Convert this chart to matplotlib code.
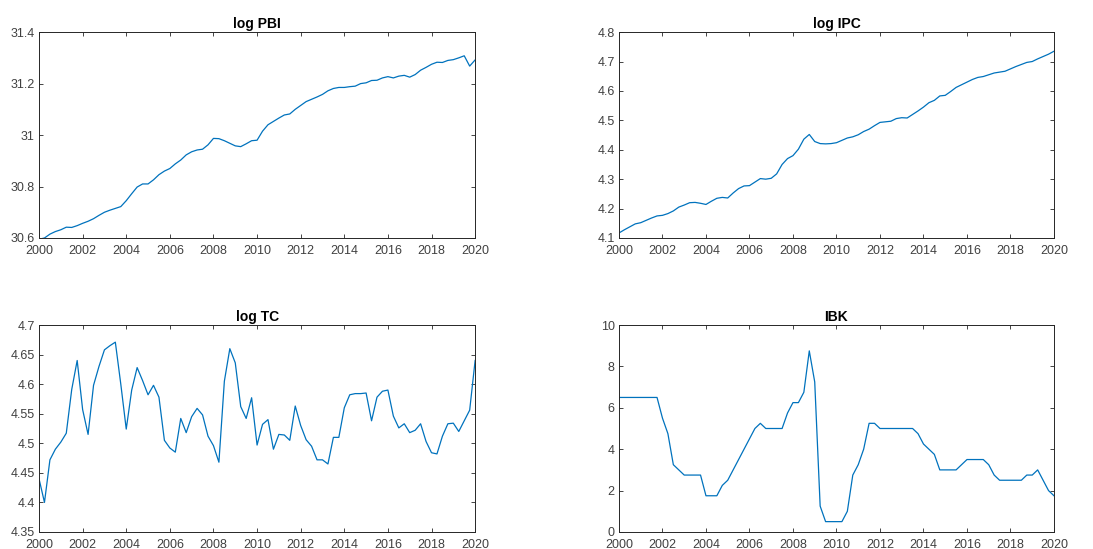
import numpy as np
import matplotlib
matplotlib.use("Agg")
import matplotlib.pyplot as plt

plt.rcParams["font.family"] = ["Liberation Sans", "DejaVu Sans"]

# Quarterly series, 2000Q1 .. 2020Q1
start_year = 2000
log_pbi = [
    30.595, 30.600, 30.615, 30.625,
    30.632, 30.642, 30.641, 30.648,
    30.657, 30.665, 30.675, 30.688,
    30.700, 30.708, 30.715, 30.722,
    30.745, 30.772, 30.798, 30.810,
    30.810, 30.826, 30.846, 30.860,
    30.870, 30.888, 30.903, 30.923,
    30.935, 30.942, 30.945, 30.962,
    30.987, 30.986, 30.978, 30.968,
    30.958, 30.955, 30.966, 30.978,
    30.980, 31.015, 31.040, 31.053,
    31.066, 31.078, 31.082, 31.100,
    31.115, 31.130, 31.139, 31.148,
    31.158, 31.172, 31.181, 31.185,
    31.185, 31.188, 31.190, 31.200,
    31.203, 31.212, 31.213, 31.222,
    31.227, 31.222, 31.229, 31.232,
    31.225, 31.235, 31.252, 31.263,
    31.275, 31.283, 31.282, 31.290,
    31.293, 31.300, 31.308, 31.268,
    31.292,
]
log_ipc = [
    4.117, 4.128, 4.138, 4.148,
    4.152, 4.160, 4.168, 4.175,
    4.177, 4.183, 4.192, 4.205,
    4.212, 4.220, 4.221, 4.218,
    4.214, 4.225, 4.235, 4.238,
    4.236, 4.253, 4.268, 4.277,
    4.278, 4.290, 4.302, 4.300,
    4.303, 4.318, 4.350, 4.370,
    4.380, 4.402, 4.436, 4.452,
    4.428, 4.421, 4.420, 4.421,
    4.424, 4.432, 4.440, 4.444,
    4.451, 4.462, 4.470, 4.482,
    4.493, 4.495, 4.497, 4.506,
    4.509, 4.508, 4.520, 4.532,
    4.545, 4.560, 4.568, 4.583,
    4.585, 4.598, 4.612, 4.621,
    4.630, 4.639, 4.646, 4.649,
    4.655, 4.661, 4.664, 4.667,
    4.675, 4.683, 4.690, 4.697,
    4.700, 4.709, 4.717, 4.725,
    4.735,
]
log_tc = [
    4.440, 4.400, 4.472, 4.490,
    4.502, 4.517, 4.591, 4.640,
    4.557, 4.515, 4.598, 4.630,
    4.658, 4.665, 4.671, 4.600,
    4.524, 4.590, 4.628, 4.606,
    4.582, 4.598, 4.578, 4.505,
    4.492, 4.485, 4.542, 4.518,
    4.545, 4.559, 4.548, 4.512,
    4.496, 4.468, 4.605, 4.660,
    4.636, 4.562, 4.542, 4.577,
    4.497, 4.532, 4.540, 4.490,
    4.515, 4.514, 4.505, 4.563,
    4.530, 4.506, 4.495, 4.472,
    4.472, 4.465, 4.510, 4.510,
    4.560, 4.582, 4.584, 4.584,
    4.585, 4.538, 4.578, 4.588,
    4.590, 4.546, 4.526, 4.533,
    4.518, 4.522, 4.533, 4.503,
    4.484, 4.482, 4.512, 4.533,
    4.534, 4.520, 4.538, 4.556,
    4.640,
]
ibk = [
    6.50, 6.50, 6.50, 6.50,
    6.50, 6.50, 6.50, 6.50,
    5.50, 4.75, 3.25, 3.00,
    2.75, 2.75, 2.75, 2.75,
    1.75, 1.75, 1.75, 2.25,
    2.50, 3.00, 3.50, 4.00,
    4.50, 5.00, 5.25, 5.00,
    5.00, 5.00, 5.00, 5.75,
    6.25, 6.25, 6.75, 8.75,
    7.25, 1.25, 0.50, 0.50,
    0.50, 0.50, 1.00, 2.75,
    3.25, 4.00, 5.25, 5.25,
    5.00, 5.00, 5.00, 5.00,
    5.00, 5.00, 5.00, 4.75,
    4.25, 4.00, 3.75, 3.00,
    3.00, 3.00, 3.00, 3.25,
    3.50, 3.50, 3.50, 3.50,
    3.25, 2.75, 2.50, 2.50,
    2.50, 2.50, 2.50, 2.75,
    2.75, 3.00, 2.50, 2.00,
    1.75,
]

titles = ["log PBI", "log IPC", "log TC", "IBK"]
series = [log_pbi, log_ipc, log_tc, ibk]
ylims = [(30.6, 31.4), (4.1, 4.8), (4.35, 4.7), (0, 10)]
yticks = [
    [30.6, 30.8, 31.0, 31.2, 31.4],
    [4.1, 4.2, 4.3, 4.4, 4.5, 4.6, 4.7, 4.8],
    [4.35, 4.40, 4.45, 4.50, 4.55, 4.60, 4.65, 4.70],
    [0, 2, 4, 6, 8, 10],
]
xticks = list(range(2000, 2021, 2))

line_color = "#0072BD"
axis_color = "#262626"
label_color = "#404040"

fig = plt.figure(figsize=(10.93, 5.49), dpi=100)
fig.patch.set_facecolor("white")

positions = [
    [0.0357, 0.5665, 0.399, 0.375],
    [0.5663, 0.5665, 0.398, 0.375],
    [0.0357, 0.031, 0.399, 0.377],
    [0.5663, 0.031, 0.398, 0.377],
]

def fmt(v):
    return f"{v:.2f}".rstrip("0").rstrip(".")

for pos, title, y, ylim, yt in zip(positions, titles, series, ylims, yticks):
    ax = fig.add_axes(pos)
    x = start_year + 0.25 * np.arange(len(y))
    ax.plot(x, y, color=line_color, linewidth=0.9)
    ax.set_xlim(2000, 2020)
    ax.set_ylim(*ylim)
    ax.set_xticks(xticks)
    ax.set_yticks(yt)
    ax.set_yticklabels([fmt(v) for v in yt])
    ax.tick_params(direction="in", top=True, right=True, length=3,
                   width=0.6, color=axis_color, labelcolor=label_color,
                   labelsize=9)
    ax.tick_params(axis="x", pad=5)
    ax.tick_params(axis="y", pad=3)
    for sp in ax.spines.values():
        sp.set_color(axis_color)
        sp.set_linewidth(0.7)
    ax.set_title(title, fontsize=10, fontweight="bold", color="black", pad=3)

fig.savefig("out.png", dpi=100)
